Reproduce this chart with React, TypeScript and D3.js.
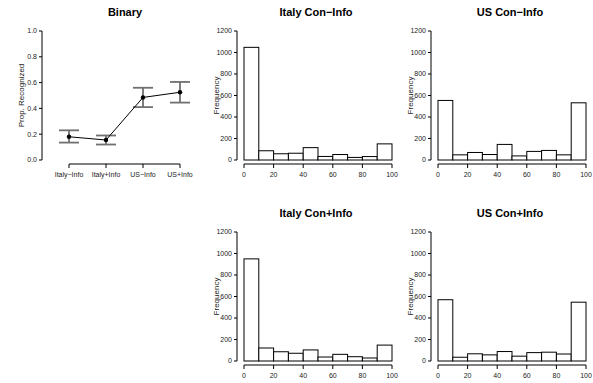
import React from "react";
import * as d3 from "d3";

const binaryCategories = ["Italy\u2212Info", "Italy+Info", "US\u2212Info", "US+Info"];
const binaryMeans = [0.18, 0.155, 0.485, 0.525];
const binaryLower = [0.135, 0.12, 0.41, 0.445];
const binaryUpper = [0.23, 0.19, 0.56, 0.605];
const binaryTicks = [0, 0.2, 0.4, 0.6, 0.8, 1.0];

const binEdges = [0, 10, 20, 30, 40, 50, 60, 70, 80, 90, 100];
const italyConMinus = [1048, 86, 58, 63, 115, 33, 51, 24, 32, 150];
const usConMinus = [554, 48, 70, 51, 145, 38, 80, 89, 48, 532];
const italyConPlus = [950, 121, 86, 72, 103, 37, 62, 40, 28, 148];
const usConPlus = [570, 35, 67, 57, 88, 45, 78, 82, 65, 547];
const histTitles = ["Italy Con\u2212Info", "US Con\u2212Info", "Italy Con+Info", "US Con+Info"];
const freqTicks = [0, 200, 400, 600, 800, 1000, 1200];
const pctTicks = [0, 20, 40, 60, 80, 100];

const FONT = "'Liberation Sans', Arial, Helvetica, sans-serif";

function Binary() {
  const x = d3.scalePoint<string>().domain(binaryCategories).range([69, 180]);
  const y = d3.scaleLinear().domain([0, 1]).range([160, 31]);
  const line = d3
    .line<number>()
    .x((_, i) => x(binaryCategories[i])!)
    .y((d) => y(d));
  const axX = 42;
  const axY = 164;
  return (
    <g>
      <text x={125} y={16} textAnchor="middle" fontWeight="bold" fontSize={11} fontFamily={FONT}>
        Binary
      </text>
      <line x1={axX} x2={axX} y1={y(1)} y2={y(0)} stroke="#000" strokeWidth={1} />
      {binaryTicks.map((t) => (
        <g key={t}>
          <line x1={axX - 3} x2={axX} y1={y(t)} y2={y(t)} stroke="#000" />
          <text x={axX - 5} y={y(t)} dy="0.33em" textAnchor="end" fontSize={7} fontFamily={FONT} fill="#222">
            {t.toFixed(1)}
          </text>
        </g>
      ))}
      <text
        transform={`translate(21,${(y(0) + y(1)) / 2}) rotate(-90)`}
        textAnchor="middle"
        dy="0.33em"
        fontSize={8}
        fontFamily={FONT}
        fill="#222"
      >
        Prop. Recognized
      </text>
      <line x1={x(binaryCategories[0])} x2={x(binaryCategories[3])} y1={axY} y2={axY} stroke="#000" />
      {binaryCategories.map((c) => (
        <g key={c}>
          <line x1={x(c)} x2={x(c)} y1={axY} y2={axY + 4} stroke="#000" />
          <text x={x(c)} y={axY + 11} dy="0.33em" textAnchor="middle" fontSize={7} fontFamily={FONT} fill="#222">
            {c}
          </text>
        </g>
      ))}
      {binaryCategories.map((c, i) => {
        const cx = x(c)!;
        return (
          <g key={c} stroke="#707070" strokeWidth={1.8}>
            <line x1={cx} x2={cx} y1={y(binaryLower[i])} y2={y(binaryUpper[i])} />
            <line x1={cx - 10} x2={cx + 10} y1={y(binaryLower[i])} y2={y(binaryLower[i])} />
            <line x1={cx - 10} x2={cx + 10} y1={y(binaryUpper[i])} y2={y(binaryUpper[i])} />
          </g>
        );
      })}
      <path d={line(binaryMeans) || ""} fill="none" stroke="#000" strokeWidth={1} />
      {binaryMeans.map((m, i) => (
        <circle key={i} cx={x(binaryCategories[i])} cy={y(m)} r={2.2} fill="#000" />
      ))}
    </g>
  );
}

function Hist({ values, title, ox, oy }: { values: number[]; title: string; ox: number; oy: number }) {
  const x = d3.scaleLinear().domain([0, 100]).range([ox + 244, ox + 392]);
  const y = d3.scaleLinear().domain([0, 1200]).range([oy + 160, oy + 31]);
  const axX = ox + 237;
  const axY = oy + 164;
  return (
    <g>
      <text x={(x(0) + x(100)) / 2 - 2} y={oy + 16} textAnchor="middle" fontWeight="bold" fontSize={11} fontFamily={FONT}>
        {title}
      </text>
      {values.map((v, i) => (
        <rect
          key={i}
          x={x(binEdges[i])}
          y={y(v)}
          width={x(binEdges[i + 1]) - x(binEdges[i])}
          height={y(0) - y(v)}
          fill="#fff"
          stroke="#000"
          strokeWidth={1}
        />
      ))}
      <line x1={axX} x2={axX} y1={y(1200)} y2={y(0)} stroke="#000" />
      {freqTicks.map((t) => (
        <g key={t}>
          <line x1={axX - 3} x2={axX} y1={y(t)} y2={y(t)} stroke="#000" />
          <text x={axX - 5} y={y(t)} dy="0.33em" textAnchor="end" fontSize={7} fontFamily={FONT} fill="#222">
            {t}
          </text>
        </g>
      ))}
      <text
        transform={`translate(${axX - 21},${(y(0) + y(1200)) / 2}) rotate(-90)`}
        textAnchor="middle"
        dy="0.33em"
        fontSize={8}
        fontFamily={FONT}
        fill="#222"
      >
        Frequency
      </text>
      <line x1={x(0)} x2={x(100)} y1={axY} y2={axY} stroke="#000" />
      {pctTicks.map((t) => (
        <g key={t}>
          <line x1={x(t)} x2={x(t)} y1={axY} y2={axY + 4} stroke="#000" />
          <text x={x(t)} y={axY + 11} dy="0.33em" textAnchor="middle" fontSize={7} fontFamily={FONT} fill="#222">
            {t}
          </text>
        </g>
      ))}
    </g>
  );
}

export default function App() {
  return (
    <svg
      width={593}
      height={383}
      style={{ position: "absolute", left: 0, top: 0, background: "#fff", opacity: 0.999 }}
    >
      <rect width={593} height={383} fill="#fff" />
      <Binary />
      <Hist values={italyConMinus} title={histTitles[0]} ox={0} oy={0} />
      <Hist values={usConMinus} title={histTitles[1]} ox={194} oy={0} />
      <Hist values={italyConPlus} title={histTitles[2]} ox={0} oy={201} />
      <Hist values={usConPlus} title={histTitles[3]} ox={194} oy={201} />
    </svg>
  );
}
